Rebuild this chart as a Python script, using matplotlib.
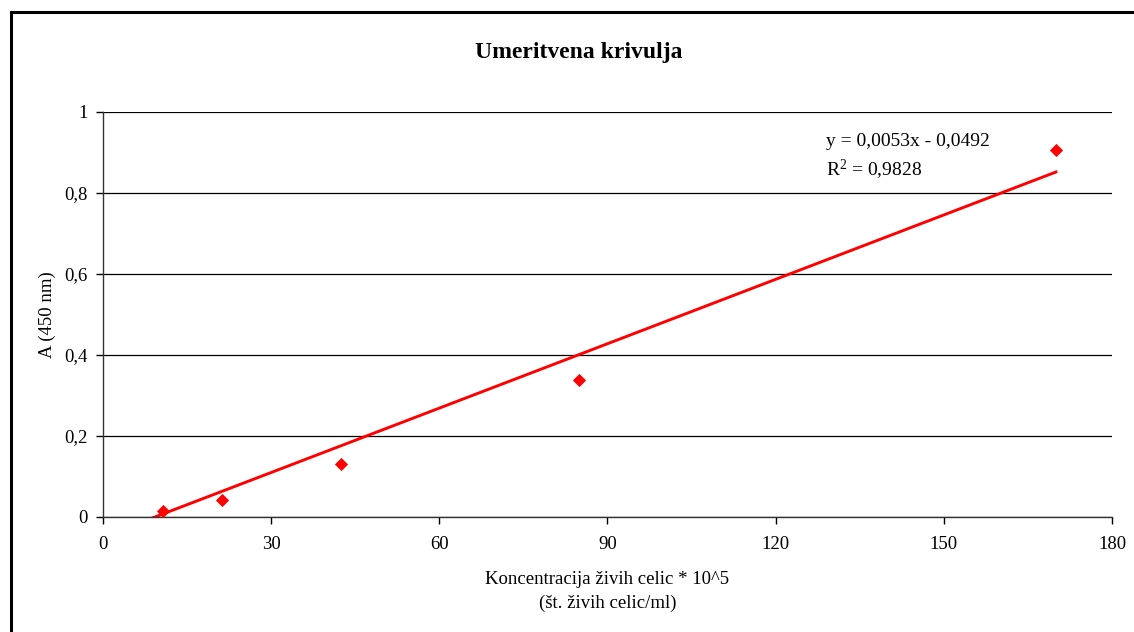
import numpy as np
import matplotlib.pyplot as plt
from matplotlib.lines import Line2D

# umeritvena krivulja: koncentracija vs absorbanca
konc = [10.625, 21.25, 42.5, 85, 170]
absorb = [0.015, 0.042, 0.130, 0.338, 0.906]
k, n = 0.0053, -0.0492
r2 = 0.9828
xticks = [0, 30, 60, 90, 120, 150, 180]
yticks = [0, 0.2, 0.4, 0.6, 0.8, 1]

plt.rcParams['font.family'] = ['Liberation Serif', 'DejaVu Serif']
plt.rcParams['mathtext.fontset'] = 'custom'
plt.rcParams['mathtext.rm'] = 'Liberation Serif'
plt.rcParams['mathtext.it'] = 'Liberation Serif:italic'


def vejica(v, fmt):
    return (fmt % v).replace('.', ',')


fig = plt.figure(figsize=(11.34, 6.32), dpi=100)
ax = fig.add_axes([0.0908, 0.182, 0.8898, 0.6408])

ax.scatter(konc, absorb, marker='D', s=45, color='#ff0000', zorder=3, linewidths=0)
xl = np.array([0, max(konc)])
ax.plot(xl, k*xl + n, color='#ff0000', lw=2.1, zorder=2)

ax.set_xlim(0, 180)
ax.set_ylim(0, 1)
ax.set_xticks(xticks)
ax.set_yticks(yticks)
ax.set_yticklabels([vejica(v, '%g') for v in yticks])
ax.tick_params(direction='out', length=5, width=1, colors='black', labelsize=13.5)
ax.tick_params(axis='x', pad=9)
ax.tick_params(axis='y', pad=6)
ax.yaxis.grid(True, color='black', lw=0.9)
ax.set_axisbelow(True)
for s in ['top', 'right']:
    ax.spines[s].set_visible(False)
for s in ['left', 'bottom']:
    ax.spines[s].set_color('#333333')
    ax.spines[s].set_linewidth(1)

ax.set_xlabel('Koncentracija živih celic * 10^5\n(št. živih celic/ml)', fontsize=13.5,
              labelpad=13, linespacing=1.45)
ax.set_ylabel('A (450 nm)', fontsize=13.5, labelpad=6)
fig.text(0.5106, 0.917, 'Umeritvena krivulja', ha='center', va='center',
         fontsize=17, fontweight='bold')

ax.text(0.717, 0.927, 'y = %sx - %s' % (vejica(k, '%.4f'), vejica(-n, '%.4f')),
        transform=ax.transAxes, fontsize=14, va='center')
ax.text(0.717, 0.857, 'R$^2$ = ' + vejica(r2, '%.4f'),
        transform=ax.transAxes, fontsize=14, va='center')

# okvir grafa
fig.add_artist(Line2D([11/1134, 11/1134], [0, 1 - 12/632], color='black', lw=2.2))
fig.add_artist(Line2D([11/1134, 1], [1 - 12/632, 1 - 12/632], color='black', lw=2.2))

fig.savefig('out.png', dpi=100)
